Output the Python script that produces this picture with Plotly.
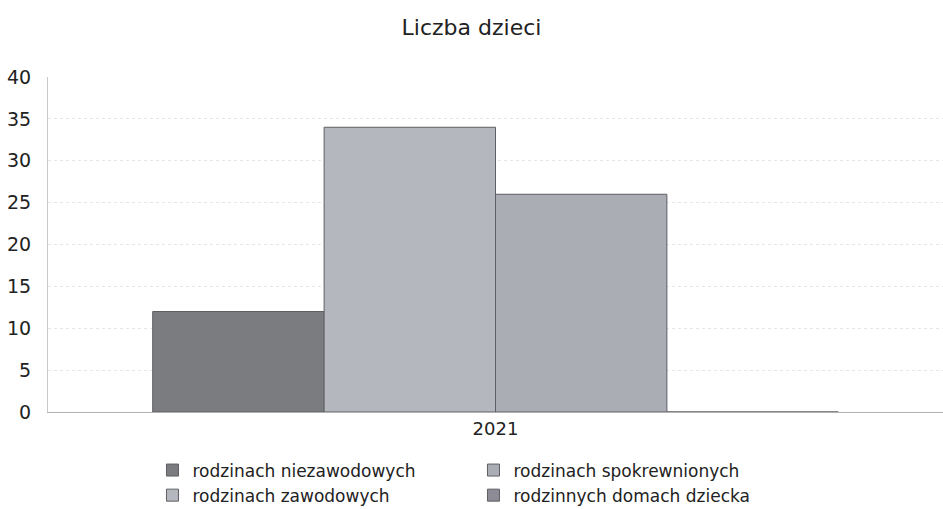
import plotly.graph_objects as go

title = "Liczba dzieci"
years = ["2021"]
series_names = [
    "rodzinach niezawodowych",
    "rodzinach zawodowych",
    "rodzinach spokrewnionych",
    "rodzinnych domach dziecka",
]
series_values = [12, 34, 26, 0]
series_colors = ["#7b7c80", "#b5b7be", "#abadb5", "#8c8b96"]
legend_ranks = [1, 3, 2, 4]
y_ticks = [0, 5, 10, 15, 20, 25, 30, 35, 40]

fig = go.Figure()
for name, val, col, rank in zip(series_names, series_values, series_colors, legend_ranks):
    fig.add_trace(go.Bar(
        name=name,
        x=years,
        y=[val],
        marker=dict(color=col, line=dict(color="#5e5f63", width=1)),
        legendrank=rank,
    ))

fig.update_layout(
    width=943,
    height=509,
    paper_bgcolor="white",
    plot_bgcolor="white",
    barmode="group",
    bargap=0.234,
    bargroupgap=0,
    margin=dict(l=48, r=0, t=77, b=97),
    font=dict(family="DejaVu Sans", color="#222222"),
    title=dict(
        text=title,
        x=0.5,
        xref="container",
        xanchor="center",
        y=0.947,
        yanchor="middle",
        font=dict(size=22, family="DejaVu Sans", color="#222222"),
    ),
    showlegend=True,
    legend=dict(
        orientation="h",
        xref="container",
        yref="container",
        x=0.1617,
        xanchor="left",
        y=0.111,
        yanchor="top",
        entrywidth=276,
        entrywidthmode="pixels",
        font=dict(size=17, family="DejaVu Sans", color="#222222"),
        tracegroupgap=0,
        itemwidth=30,
        traceorder="normal",
    ),
    xaxis=dict(
        showgrid=False,
        showline=True,
        linecolor="#b0b0b0",
        linewidth=1,
        ticks="",
        tickfont=dict(size=18, color="#222222"),
    ),
    yaxis=dict(
        range=[0, 40],
        tickvals=y_ticks,
        showgrid=True,
        gridcolor="#e6e6e6",
        griddash="dot",
        zeroline=False,
        showline=True,
        linecolor="#c8c8c8",
        linewidth=1,
        ticks="",
        ticklabelstandoff=12,
        tickfont=dict(size=19, color="#222222"),
    ),
)

fig.write_html("out.html")
